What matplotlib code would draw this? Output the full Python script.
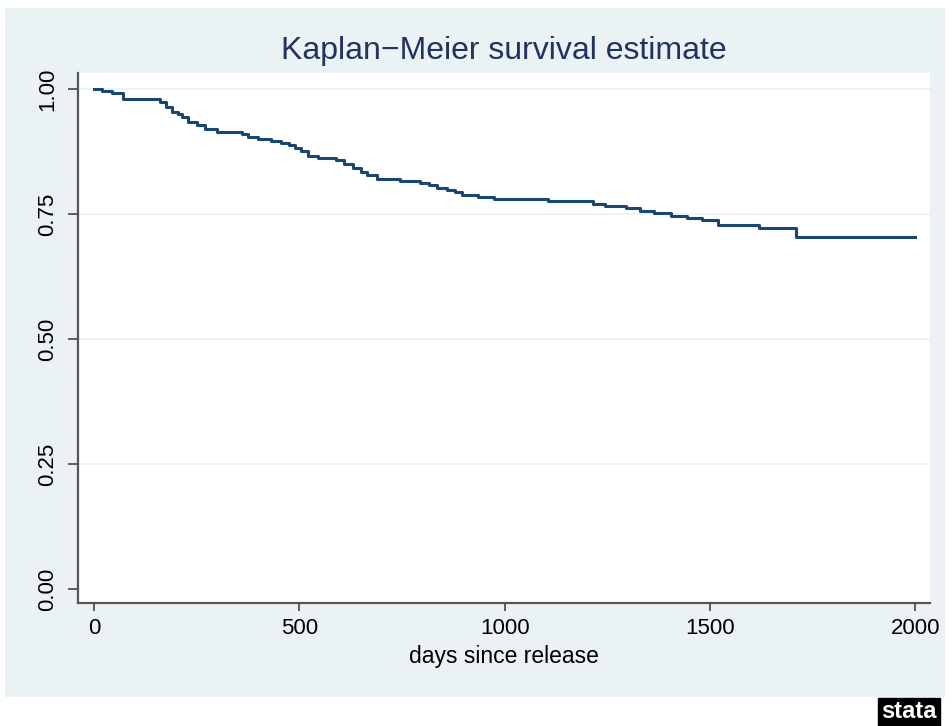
import matplotlib.pyplot as plt
from matplotlib.patches import Rectangle

# Kaplan-Meier step estimate (days, survival after step)
dias = [0, 20, 45, 70, 160, 175, 190, 205, 215, 230, 250, 270, 300, 360, 375,
        400, 430, 455, 475, 490, 505, 520, 545, 590, 610, 630, 650, 665, 690,
        745, 795, 815, 835, 860, 880, 895, 935, 975, 1105, 1215, 1245, 1295,
        1330, 1365, 1405, 1445, 1480, 1520, 1620, 1710, 2000]
supervivencia = [1.0, 0.996, 0.993, 0.981, 0.975, 0.965, 0.955, 0.950, 0.944,
                 0.935, 0.928, 0.921, 0.914, 0.910, 0.905, 0.900, 0.897, 0.893,
                 0.889, 0.883, 0.876, 0.866, 0.862, 0.858, 0.850, 0.842, 0.835,
                 0.829, 0.821, 0.817, 0.812, 0.808, 0.803, 0.798, 0.794, 0.789,
                 0.784, 0.781, 0.776, 0.770, 0.766, 0.762, 0.757, 0.752, 0.747,
                 0.742, 0.738, 0.729, 0.722, 0.705, 0.705]
xticks = [0, 500, 1000, 1500, 2000]
yticks = [0.00, 0.25, 0.50, 0.75, 1.00]

plt.rcParams['font.family'] = ['Liberation Sans', 'DejaVu Sans']

W, H = 953, 726
fig = plt.figure(figsize=(W / 100, H / 100), dpi=100)
fig.patch.set_facecolor('white')

# light blue graph region
fig.patches.append(Rectangle((5 / W, 1 - 697 / H), 940 / W, 689 / H,
                             transform=fig.transFigure, facecolor='#EAF2F3',
                             edgecolor='none', zorder=-5))

ax = fig.add_axes([78 / W, 1 - 603 / H, (930 - 78) / W, (603 - 73) / H])
ax.set_zorder(2)
ax.set_facecolor('white')

for y in yticks[1:]:
    ax.axhline(y, color='#EAF2F3', lw=1.2, zorder=1)

ax.step(dias, supervivencia, where='post', color='#1A476F', lw=2.2, zorder=3)

ax.set_xlim(-39, 2036)
ax.set_ylim(-0.028, 1.032)
ax.set_xticks(xticks)
ax.set_yticks(yticks)
ax.set_yticklabels(['%.2f' % v for v in yticks], rotation=90, va='center')
ax.tick_params(axis='y', direction='out', length=7.2, width=1.2,
               colors='#444444', labelsize=16, labelcolor='black', pad=7)
ax.tick_params(axis='x', direction='out', length=5.5, width=1.2,
               colors='#444444', labelsize=16, labelcolor='black', pad=5)

for s in ['top', 'right']:
    ax.spines[s].set_visible(False)
for s in ['left', 'bottom']:
    ax.spines[s].set_color('#555555')
    ax.spines[s].set_linewidth(1.6)

fig.text(504 / W, 1 - 663 / H, 'days since release', ha='center',
         va='baseline', fontsize=16.5, color='black')

fig.text(504 / W, 1 - 59 / H, 'Kaplan\u2212Meier survival estimate',
         ha='center', va='baseline', fontsize=23, color='#233361')

# stata logo
fig.text(909 / W, 1 - 712 / H, 'stata', ha='center', va='center',
         fontsize=17, fontweight='bold', color='white',
         bbox=dict(boxstyle='square,pad=0.12', facecolor='black',
                   edgecolor='black'))

plt.savefig('out.png', dpi=100)
